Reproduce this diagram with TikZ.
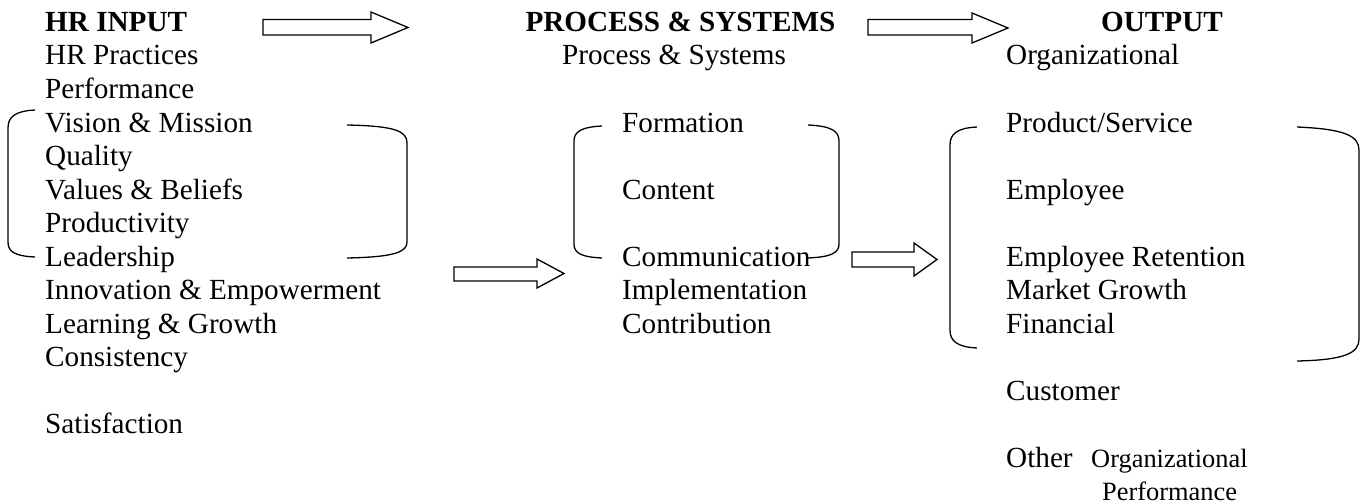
\documentclass[tikz,border=0pt]{standalone}
\usepackage{fontspec}
\setmainfont{Liberation Serif}
\begin{document}
\begin{tikzpicture}[x=1pt,y=-1pt,
  txt/.style={anchor=base west, inner sep=0pt, font=\fontsize{29.2}{33.5}\selectfont},
  small/.style={anchor=base west, inner sep=0pt, font=\fontsize{26.4}{30}\selectfont},
  head/.style={anchor=base, inner sep=0pt, font=\fontsize{29.2}{33.5}\selectfont\bfseries},
  sub/.style={anchor=base, inner sep=0pt, font=\fontsize{29.2}{33.5}\selectfont},
  brk/.style={draw, line width=1.3pt},
  barrow/.style={draw, line width=1.3pt, line join=miter, fill=white}]
% canvas
\fill[white] (0,0) rectangle (1366,503);
\useasboundingbox (0,0) rectangle (1366,503);

% block arrow: left x, head base x, tip x, shaft top/bottom, head top/bottom
\newcommand\blockarr[7]{%
  \path[barrow] (#1,#4) -- (#2,#4) -- (#2,#6) -- (#3,{(#6+#7)/2}) -- (#2,#7)
    -- (#2,#5) -- (#1,#5) -- cycle;}

% ---------- HR input column ----------
\node[head, anchor=base west] (hrin) at (45,31.5) {HR INPUT};
\node[txt] (l1)  at (45,65.0)  {HR Practices};
\node[txt] (l2)  at (45,98.5)  {Performance};
\node[txt] (l3)  at (45,132.0) {Vision \& Mission};
\node[txt] (l4)  at (45,165.5) {Quality};
\node[txt] (l5)  at (45,199.0) {Values \& Beliefs};
\node[txt] (l6)  at (45,232.5) {Productivity};
\node[txt] (l7)  at (45,266.0) {Leadership};
\node[txt] (l8)  at (45,299.5) {Innovation \& Empowerment};
\node[txt] (l9)  at (45,333.0) {Learning \& Growth};
\node[txt] (l10) at (45,366.5) {Consistency};
\node[txt] (l12) at (45,433.5) {Satisfaction};

% ---------- process column ----------
\node[head] (proc) at (680.5,31.5) {PROCESS \& SYSTEMS};
\node[sub]  (procsub) at (674,65.0) {Process \& Systems};
\node[txt] (m3) at (622,132.0) {Formation};
\node[txt] (m5) at (622,199.0) {Content};
\node[txt] (m7) at (622,266.0) {Communication};
\node[txt] (m8) at (622,299.5) {Implementation};
\node[txt] (m9) at (622,333.0) {Contribution};

% ---------- output column ----------
\node[head] (out) at (1162,31.5) {OUTPUT};
\node[txt] (r1)  at (1006,65.0)  {Organizational};
\node[txt] (r3)  at (1006,132.0) {Product/Service};
\node[txt] (r5)  at (1006,199.0) {Employee};
\node[txt] (r7)  at (1006,266.0) {Employee Retention};
\node[txt] (r8)  at (1006,299.5) {Market Growth};
\node[txt] (r9)  at (1006,333.0) {Financial};
\node[txt] (r11) at (1006,400.0) {Customer};
\node[txt] (r13) at (1006,467.0) {Other};
\node[small] (r13b) at (1091,467.0) {Organizational};
\node[small] (r14) at (1102,500.0) {Performance};

% ---------- brackets ----------
% HR input group
\draw[brk] (35,110) .. controls (15,111) and (8,117) .. (8,128) -- (8,242)
  .. controls (8,252) and (15,256) .. (35,257);
\draw[brk] (347,125) .. controls (395,126) and (407,131) .. (407,143) -- (407,242)
  .. controls (407,252) and (395,257) .. (347,258);
% process group
\draw[brk] (602,126) .. controls (581,127) and (574,132) .. (574,141) -- (574,244)
  .. controls (574,253) and (581,257) .. (602,258);
\draw[brk] (808,125) .. controls (831,126) and (839,131) .. (839,141) -- (839,244)
  .. controls (839,253) and (831,257) .. (808,258);
% output group
\draw[brk] (977,127) .. controls (957,128) and (950,134) .. (950,145) -- (950,330)
  .. controls (950,341) and (957,347) .. (977,348);
\draw[brk] (1297,127) .. controls (1345,129) and (1359,136) .. (1359,150) -- (1359,339)
  .. controls (1359,353) and (1345,360) .. (1297,361);

% ---------- block arrows ----------
\blockarr{263}{371}{408}{19.5}{35}{12}{43}
\blockarr{868}{972}{1008}{19.5}{35}{13}{43}
\blockarr{454}{537}{564}{267}{281}{259}{288}
\blockarr{852}{914}{937}{252}{267}{243}{276}
\end{tikzpicture}
\end{document}
